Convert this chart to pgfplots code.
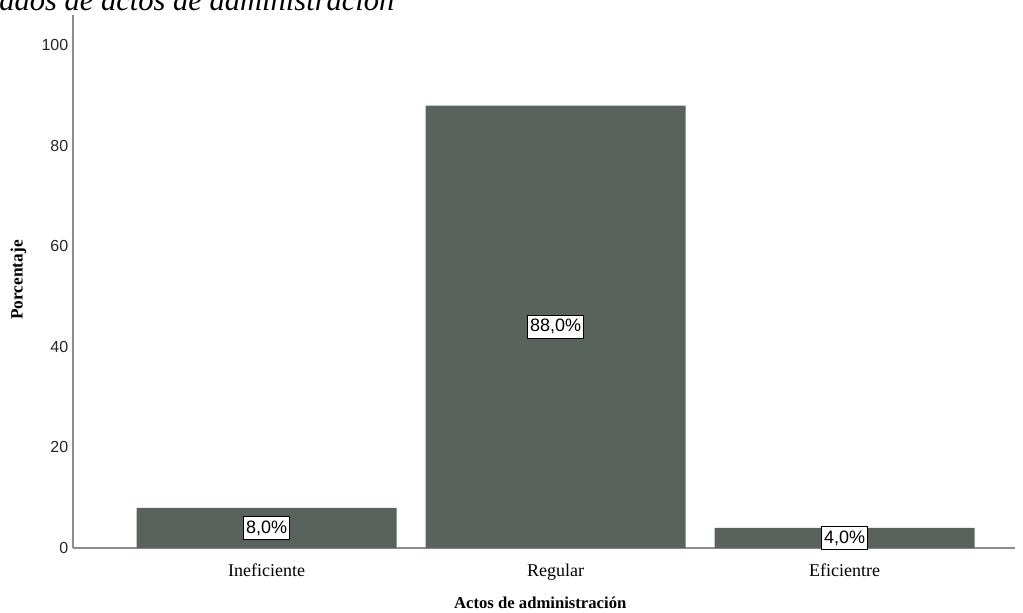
\documentclass[border=0pt]{standalone}
\usepackage{pgfplots}
\pgfplotsset{compat=1.18}
\usepackage{fontspec}
\setmainfont{Liberation Serif}
\newfontfamily\arial{Liberation Sans}
\definecolor{barc}{HTML}{5A625D}
\begin{document}
\begin{tikzpicture}
\useasboundingbox (0,0) rectangle (767.25pt,-459pt);
\node[anchor=base west, inner sep=0, font=\fontsize{22.9}{26}\selectfont\itshape] at (-0.75pt,-7.8pt) {ados de actos de administración};
\begin{axis}[
  at={(54.75pt,-411pt)}, anchor=south west,
  width=706.5pt, height=399.75pt, scale only axis,
  xmin=-0.67, xmax=2.59, ymin=0, ymax=106,
  axis x line*=bottom, axis y line*=left,
  axis line style={black!45, line width=0.8pt},
  major tick length=0pt,
  ytick={0,20,40,60,80,100},
  xtick={0,1,2},
  xticklabels={Ineficiente,Regular,Eficientre},
  yticklabel style={font=\arial\fontsize{12}{13}\selectfont, text=black!85},
  xticklabel style={font=\fontsize{13.5}{15}\selectfont, text height=1.6ex, text depth=0.5ex, yshift=-10.5pt},
  /pgf/number format/assume math mode=true,
  xlabel={Actos de administración},
  ylabel={Porcentaje},
  xlabel style={font=\bfseries\fontsize{12.5}{14}\selectfont, at={(axis description cs:0.496,-0.102)}, anchor=center},
  ylabel style={font=\bfseries\fontsize{13}{14}\selectfont, at={(axis description cs:-0.058,0.503)}, anchor=center},
  clip=false,
]
\addplot[ybar, bar width=195pt, fill=barc, draw=none] coordinates {(0,8) (1,88) (2,4)};
\addplot[draw=none, mark=none, nodes near coords, point meta=explicit symbolic,
  nodes near coords align=center,
  every node near coord/.style={draw=black, fill=white, inner xsep=2pt, inner ysep=3pt, line width=0.7pt, font=\arial\fontsize{13.5}{15}\selectfont, anchor=center}]
  coordinates {(0,4)[8,0\%] (1,44)[88,0\%] (2,2)[4,0\%]};
\end{axis}
\end{tikzpicture}
\end{document}
